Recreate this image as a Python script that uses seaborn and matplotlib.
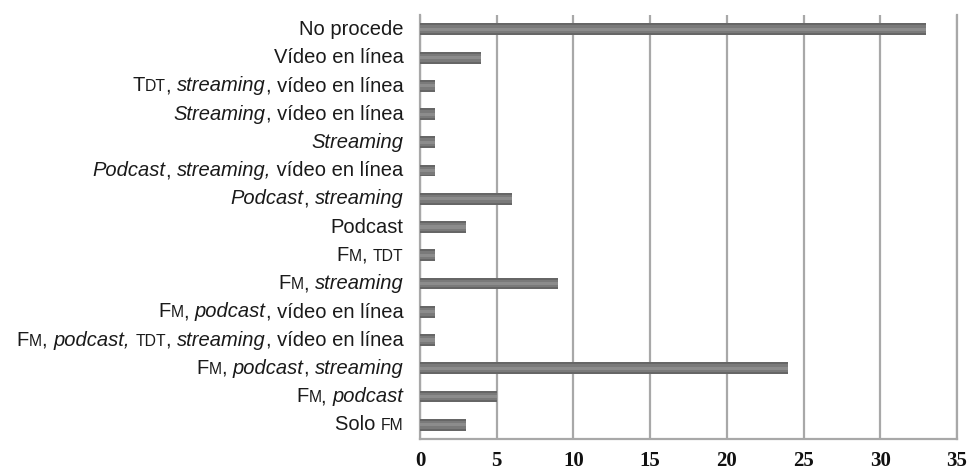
import matplotlib
matplotlib.use('Agg')
import matplotlib.pyplot as plt
import seaborn as sns
import pandas as pd
from matplotlib.offsetbox import TextArea, HPacker, AnnotationBbox

# Categorías (de arriba a abajo) y número de respuestas
categorias = [
    'No procede',
    'Vídeo en línea',
    'TDT, streaming, vídeo en línea',
    'Streaming, vídeo en línea',
    'Streaming',
    'Podcast, streaming, vídeo en línea',
    'Podcast, streaming',
    'Podcast',
    'FM, TDT',
    'FM, streaming',
    'FM, podcast, vídeo en línea',
    'FM, podcast, TDT, streaming, vídeo en línea',
    'FM, podcast, streaming',
    'FM, podcast',
    'Solo FM',
]
valores = [33, 4, 1, 1, 1, 1, 6, 3, 1, 9, 1, 1, 24, 5, 3]
ticks_x = [0, 5, 10, 15, 20, 25, 30, 35]

# Etiquetas con estilo mixto: n = normal, i = cursiva, s = versalita
etiquetas_ricas = [
    [('No procede', 'n')],
    [('Vídeo en línea', 'n')],
    [('T', 'n'), ('DT', 's'), (', ', 'n'), ('streaming', 'i'), (', vídeo en línea', 'n')],
    [('Streaming', 'i'), (', vídeo en línea', 'n')],
    [('Streaming', 'i')],
    [('Podcast', 'i'), (', ', 'n'), ('streaming,', 'i'), (' vídeo en línea', 'n')],
    [('Podcast', 'i'), (', ', 'n'), ('streaming', 'i')],
    [('Podcast', 'n')],
    [('F', 'n'), ('M', 's'), (', ', 'n'), ('TDT', 's')],
    [('F', 'n'), ('M', 's'), (', ', 'n'), ('streaming', 'i')],
    [('F', 'n'), ('M', 's'), (', ', 'n'), ('podcast', 'i'), (', vídeo en línea', 'n')],
    [('F', 'n'), ('M', 's'), (', ', 'n'), ('podcast,', 'i'), (' ', 'n'), ('TDT', 's'),
     (', ', 'n'), ('streaming', 'i'), (', vídeo en línea', 'n')],
    [('F', 'n'), ('M', 's'), (', ', 'n'), ('podcast', 'i'), (', ', 'n'), ('streaming', 'i')],
    [('F', 'n'), ('M', 's'), (', ', 'n'), ('podcast', 'i')],
    [('Solo ', 'n'), ('FM', 's')],
]

df = pd.DataFrame({'categoria': categorias, 'valor': valores})

sns.set_style('white')
plt.rcParams['font.family'] = ['Liberation Sans', 'DejaVu Sans']

fig = plt.figure(figsize=(9.68, 4.75), dpi=100)
ax = fig.add_axes([0.434, 0.076, 0.5545, 0.892])

# Barras: cuerpo oscuro y franja central más clara (efecto degradado)
sns.barplot(data=df, x='valor', y='categoria', orient='h', color='#666666',
            width=0.42, saturation=1, linewidth=0, ax=ax, zorder=3)
sns.barplot(data=df, x='valor', y='categoria', orient='h', color='#7a7a7a',
            width=0.28, saturation=1, linewidth=0, ax=ax, zorder=4)
sns.barplot(data=df, x='valor', y='categoria', orient='h', color='#8c8c8c',
            width=0.11, saturation=1, linewidth=0, ax=ax, zorder=5)

ax.set_xlim(0, 35)
ax.set_ylim(len(categorias) - 0.5, -0.5)
ax.set_xticks(ticks_x)
ax.set_xticklabels([str(t) for t in ticks_x], fontfamily='Liberation Serif',
                   fontweight='bold', fontsize=15, color='#111111')
ax.tick_params(axis='x', length=0, pad=9)
ax.tick_params(axis='y', length=0)
ax.set_yticklabels([''] * len(categorias))
ax.set_xlabel('')
ax.set_ylabel('')

ax.grid(axis='x', color='#a8a8a8', linewidth=1.6, zorder=0)
ax.set_axisbelow(True)
for lado in ['left', 'bottom', 'right']:
    ax.spines[lado].set_color('#a8a8a8')
    ax.spines[lado].set_linewidth(1.6)
ax.spines['top'].set_visible(False)

# Etiquetas del eje y con cursivas y versalitas
tam = 14.5
for i, partes in enumerate(etiquetas_ricas):
    hijos = []
    for texto, estilo in partes:
        props = {'fontsize': tam, 'color': '#1a1a1a', 'family': 'Liberation Sans'}
        if estilo == 'i':
            props['style'] = 'italic'
        elif estilo == 's':
            props['fontsize'] = tam * 0.78
        hijos.append(TextArea(texto, textprops=props))
    caja = HPacker(children=hijos, align='baseline', pad=0, sep=0)
    ab = AnnotationBbox(caja, (0, i), xycoords=('axes fraction', 'data'),
                        xybox=(-12, 0), boxcoords='offset points',
                        box_alignment=(1, 0.5), frameon=False, pad=0,
                        annotation_clip=False)
    ax.add_artist(ab)

fig.savefig('out.png', dpi=100)
